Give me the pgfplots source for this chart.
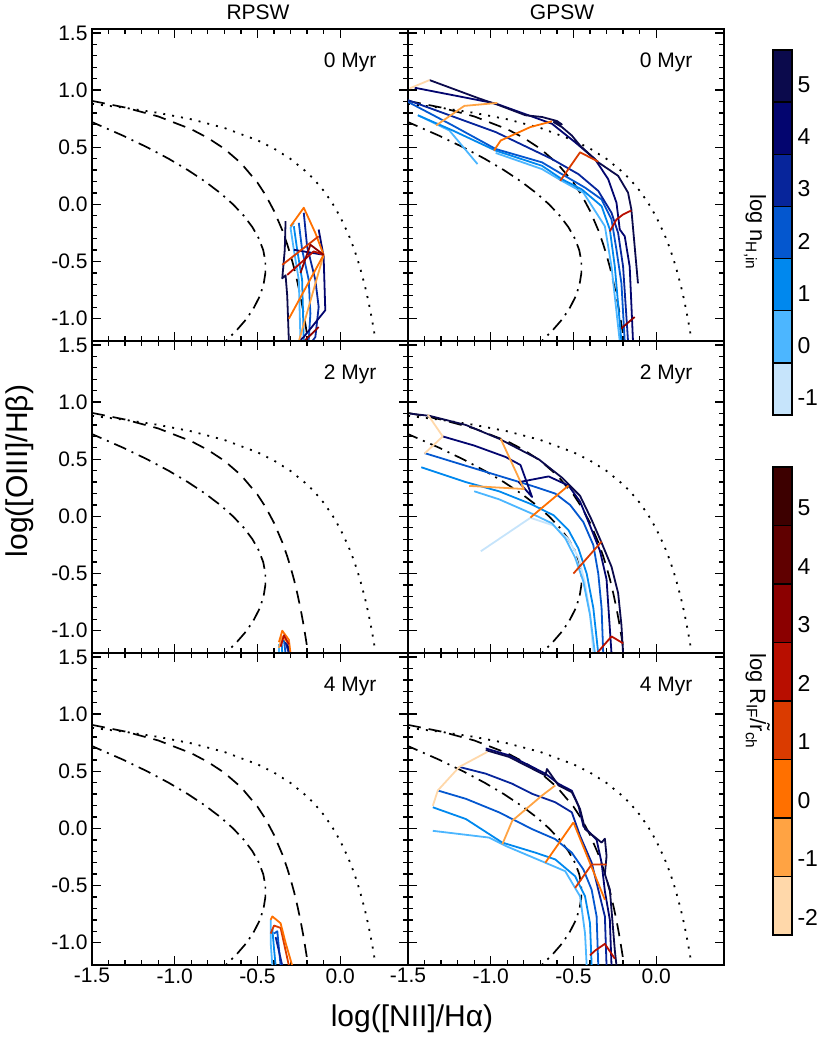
\documentclass[border=0pt]{standalone}
\usepackage{fontspec}
\setmainfont{Liberation Sans}
\usepackage{pgfplots}
\pgfplotsset{compat=1.18}

\definecolor{nA}{HTML}{0B0A4C}
\definecolor{nB}{HTML}{03056F}
\definecolor{nC}{HTML}{07259B}
\definecolor{nD}{HTML}{0457CF}
\definecolor{nE}{HTML}{0088EE}
\definecolor{nF}{HTML}{4CB6FF}
\definecolor{nG}{HTML}{C6E4FB}
\definecolor{rA}{HTML}{3D0000}
\definecolor{rB}{HTML}{600000}
\definecolor{rC}{HTML}{8B0000}
\definecolor{rD}{HTML}{B80E00}
\definecolor{rE}{HTML}{DA3B00}
\definecolor{rF}{HTML}{FF7000}
\definecolor{rG}{HTML}{FFA343}
\definecolor{rH}{HTML}{FFD8AA}

\pgfplotsset{
  panel/.style={scale only axis, width=316pt, height=312pt,
    xmin=-1.5, xmax=0.41, ymin=-1.195, ymax=1.535,
    xtick={-1.5,-1,-0.5,0}, ytick={-1,-0.5,0,0.5,1,1.5},
    minor x tick num=4, minor y tick num=4,
    tick align=inside, xtick pos=both, ytick pos=both,
    major tick length=9pt, minor tick length=5pt,
    axis line style={line width=1.6pt},
    every tick/.style={black, line width=1.3pt},
    xticklabels={}, yticklabels={},
    ticklabel style={font=\fontsize{21}{24}\selectfont},
    yticklabel style={xshift=-1pt},
    clip=true},
  trk/.style={line width=1.8pt, line join=round, no marks},
  refdot/.style={black, line width=1.8pt, no marks, dash pattern=on 2pt off 7pt},
  refdash/.style={black, line width=1.7pt, no marks, dash pattern=on 13pt off 8pt},
  refdd/.style={black, line width=1.7pt, no marks, dash pattern=on 13pt off 6pt on 2pt off 6pt},
  cbar/.style={scale only axis, width=19pt, xmin=0, xmax=1,
    xtick=\empty, ytick={-2,-1,0,1,2,3,4,5}, yticklabels={-2,-1,0,1,2,3,4,5},
    yticklabel pos=right, major tick length=0pt,
    axis line style={line width=1.4pt},
    ticklabel style={font=\fontsize{23}{26}\selectfont},
    yticklabel style={xshift=2pt}},
  seg/.style={draw=black, line width=1.4pt}
}

\newcommand{\refcurves}{%
  \addplot[refdot] coordinates {(-1.5,0.880) (-1.3,0.845) (-1.1,0.801) (-0.9,0.745) (-0.7,0.669) (-0.5,0.561) (-0.4,0.489) (-0.3,0.398) (-0.2,0.280) (-0.15,0.206) (-0.1,0.120) (-0.05,0.017) (0.0,-0.108) (0.05,-0.262) (0.08,-0.374) (0.1,-0.459) (0.12,-0.553) (0.15,-0.716) (0.17,-0.843) (0.19,-0.989) (0.2,-1.069) (0.21,-1.156) (0.22,-1.25)};
  \addplot[refdash] coordinates {(-1.5,0.906) (-1.3,0.848) (-1.1,0.770) (-0.9,0.658) (-0.8,0.582) (-0.7,0.487) (-0.6,0.362) (-0.5,0.191) (-0.45,0.080) (-0.4,-0.056) (-0.35,-0.225) (-0.32,-0.349) (-0.3,-0.443) (-0.28,-0.548) (-0.26,-0.668) (-0.24,-0.803) (-0.22,-0.959) (-0.2,-1.14) (-0.19,-1.242)};
  \addplot[refdd] coordinates {(-1.515,0.73) (-1.310,0.6) (-1.167,0.5) (-1.037,0.4) (-0.920,0.3) (-0.816,0.2) (-0.725,0.1) (-0.647,0.0) (-0.582,-0.1) (-0.530,-0.2) (-0.491,-0.3) (-0.465,-0.4) (-0.452,-0.5) (-0.452,-0.6) (-0.463,-0.7) (-0.485,-0.8) (-0.52,-0.9) (-0.565,-1.0) (-0.625,-1.1) (-0.695,-1.2) (-0.72,-1.23)};
}

\begin{document}
\begin{tikzpicture}
\path[use as bounding box] (0pt,0pt) rectangle (830pt,1040pt);

% ---------------- RPSW 0 Myr
\begin{axis}[panel, at={(92pt,699pt)}, anchor=south west,
  yticklabels={-1.0,-0.5,0.0,0.5,1.0,1.5}]
\refcurves
\addplot[trk, nF] coordinates {(-0.28,-0.16) (-0.30,-0.205) (-0.28,-0.397) (-0.25,-0.661) (-0.24,-1.19)};
\addplot[trk, nE] coordinates {(-0.28,-0.191) (-0.26,-0.397) (-0.23,-0.661) (-0.22,-1.19)};
\addplot[trk, nD] coordinates {(-0.25,-0.161) (-0.23,-0.397) (-0.19,-0.661) (-0.18,-0.955) (-0.19,-1.19)};
\addplot[trk, nC] coordinates {(-0.22,-0.073) (-0.20,-0.367) (-0.15,-0.661) (-0.13,-0.897) (-0.15,-1.16) (-0.17,-1.2)};
\addplot[trk, nB] coordinates {(-0.13,-0.220) (-0.10,-0.455) (-0.09,-0.926) (-0.22,-1.16) (-0.25,-1.2)};
\addplot[trk, nB] coordinates {(-0.28,-0.397) (-0.10,-0.441)};
\addplot[trk, nA] coordinates {(-0.33,-0.147) (-0.335,-0.40) (-0.35,-0.647) (-0.33,-0.62) (-0.32,-0.80) (-0.31,-1.2)};
\addplot[trk, rG] coordinates {(-0.25,-1.2) (-0.10,-0.441)};
\addplot[trk, rF] coordinates {(-0.31,-1.0) (-0.10,-0.441)};
\addplot[trk, rF] coordinates {(-0.30,-0.191) (-0.22,-0.029) (-0.15,-0.25) (-0.10,-0.441)};
\addplot[trk, rE] coordinates {(-0.35,-0.529) (-0.13,-0.279)};
\addplot[trk, rD] coordinates {(-0.32,-0.617) (-0.16,-0.411) (-0.10,-0.441)};
\addplot[trk, rC] coordinates {(-0.24,-0.60) (-0.18,-0.353) (-0.10,-0.441)};
\addplot[trk, rC] coordinates {(-0.22,-1.2) (-0.13,-1.073)};
\node[anchor=east, font=\fontsize{21}{24}\selectfont] at (axis description cs:0.911,0.894) {0 Myr};
\end{axis}

% ---------------- GPSW 0 Myr
\begin{axis}[panel, at={(408pt,699pt)}, anchor=south west]
\refcurves
\addplot[trk, nF] coordinates {(-1.44,0.78) (-1.25,0.647) (-1.08,0.353)};
\addplot[trk, nF] coordinates {(-0.97,0.45) (-0.69,0.309) (-0.57,0.206) (-0.44,0.103) (-0.31,-0.191) (-0.27,-0.544) (-0.22,-1.2)};
\addplot[trk, nE] coordinates {(-1.44,0.780) (-1.23,0.647) (-0.97,0.471) (-0.69,0.338) (-0.57,0.221) (-0.45,0.132) (-0.33,-0.015) (-0.28,-0.220) (-0.25,-0.544) (-0.21,-1.2)};
\addplot[trk, nD] coordinates {(-1.50,0.897) (-1.23,0.691) (-0.97,0.485) (-0.69,0.368) (-0.57,0.265) (-0.43,0.147) (-0.33,0.044) (-0.27,-0.132) (-0.24,-0.397) (-0.21,-0.691) (-0.19,-1.2)};
\addplot[trk, nC] coordinates {(-1.50,0.912) (-0.97,0.633) (-0.63,0.397) (-0.47,0.265) (-0.35,0.118) (-0.27,-0.073) (-0.23,-0.25) (-0.20,-0.544) (-0.17,-1.2)};
\addplot[trk, nB] coordinates {(-1.46,1.021) (-0.97,0.883) (-0.63,0.706) (-0.49,0.544) (-0.37,0.397) (-0.29,0.221) (-0.24,0.015) (-0.22,-0.220) (-0.19,-0.279) (-0.16,-0.544) (-0.14,-1.2)};
\addplot[trk, nA] coordinates {(-1.37,1.088) (-1.07,0.927) (-0.95,0.868) (-0.79,0.780) (-0.69,0.765) (-0.60,0.73) (-0.57,0.70) (-0.62,0.72) (-0.57,0.677) (-0.51,0.603) (-0.46,0.515) (-0.35,0.368) (-0.23,0.250) (-0.17,0.103) (-0.15,-0.044) (-0.13,-0.367) (-0.11,-0.691)};
\addplot[trk, rH] coordinates {(-1.49,1.015) (-1.37,1.088)};
\addplot[trk, rG] coordinates {(-1.33,0.691) (-1.16,0.862) (-0.96,0.888)};
\addplot[trk, rF] coordinates {(-0.98,0.471) (-0.94,0.559) (-0.76,0.677) (-0.63,0.727)};
\addplot[trk, rE] coordinates {(-0.58,0.206) (-0.46,0.456) (-0.35,0.374)};
\addplot[trk, rD] coordinates {(-0.28,-0.235) (-0.24,-0.132) (-0.20,-0.088) (-0.15,-0.053)};
\addplot[trk, rC] coordinates {(-0.21,-1.088) (-0.19,-1.059) (-0.13,-0.985)};
\node[anchor=east, font=\fontsize{21}{24}\selectfont] at (axis description cs:0.911,0.894) {0 Myr};
\end{axis}

% ---------------- RPSW 2 Myr
\begin{axis}[panel, at={(92pt,387pt)}, anchor=south west,
  yticklabels={-1.0,-0.5,0.0,0.5,1.0,1.5}]
\refcurves
\addplot[trk, nF] coordinates {(-0.37,-1.12) (-0.37,-1.2)};
\addplot[trk, nE] coordinates {(-0.355,-1.06) (-0.35,-1.2)};
\addplot[trk, nD] coordinates {(-0.34,-1.08) (-0.33,-1.2)};
\addplot[trk, nC] coordinates {(-0.33,-1.1) (-0.31,-1.2)};
\addplot[trk, nB] coordinates {(-0.32,-1.12) (-0.30,-1.2)};
\addplot[trk, rG] coordinates {(-0.37,-1.15) (-0.35,-1.05) (-0.32,-1.1)};
\addplot[trk, rF] coordinates {(-0.37,-1.1) (-0.35,-1.0) (-0.31,-1.08) (-0.30,-1.2)};
\addplot[trk, rD] coordinates {(-0.36,-1.14) (-0.34,-1.04) (-0.31,-1.12)};
\node[anchor=east, font=\fontsize{21}{24}\selectfont] at (axis description cs:0.911,0.894) {2 Myr};
\end{axis}

% ---------------- GPSW 2 Myr
\begin{axis}[panel, at={(408pt,387pt)}, anchor=south west]
\refcurves
\addplot[trk, nG] coordinates {(-1.06,-0.305) (-0.76,-0.012) (-0.62,-0.08) (-0.53,-0.20) (-0.47,-0.36) (-0.43,-0.58) (-0.40,-0.85) (-0.38,-1.2)};
\addplot[trk, nF] coordinates {(-1.10,0.22) (-0.95,0.15) (-0.76,0.03) (-0.63,-0.06) (-0.55,-0.19) (-0.49,-0.36) (-0.44,-0.57) (-0.40,-0.86) (-0.37,-1.2)};
\addplot[trk, nE] coordinates {(-1.42,0.43) (-1.15,0.30) (-0.95,0.22) (-0.76,0.11) (-0.62,0.01) (-0.53,-0.12) (-0.47,-0.28) (-0.42,-0.50) (-0.38,-0.80) (-0.35,-1.2)};
\addplot[trk, nD] coordinates {(-1.40,0.554) (-1.15,0.443) (-0.95,0.355) (-0.75,0.267) (-0.61,0.200) (-0.52,0.10) (-0.44,-0.05) (-0.38,-0.25) (-0.35,-0.50) (-0.33,-0.80) (-0.32,-1.2)};
\addplot[trk, nB] coordinates {(-1.29,0.70) (-1.10,0.62) (-0.91,0.52) (-0.82,0.45) (-0.75,0.17) (-0.83,0.30) (-0.65,0.35) (-0.53,0.27) (-0.46,0.13) (-0.40,-0.08) (-0.34,-0.30) (-0.30,-0.55) (-0.27,-1.2)};
\addplot[trk, nA] coordinates {(-1.49,0.90) (-1.37,0.88) (-1.15,0.80) (-0.95,0.68) (-0.71,0.50) (-0.57,0.34) (-0.46,0.18) (-0.39,-0.03) (-0.33,-0.23) (-0.27,-0.44) (-0.23,-0.67) (-0.21,-0.95) (-0.20,-1.2)};
\addplot[trk, rH] coordinates {(-1.38,0.89) (-1.29,0.70) (-1.40,0.55)};
\addplot[trk, rG] coordinates {(-0.94,0.68) (-0.80,0.24) (-1.13,0.267)};
\addplot[trk, rF] coordinates {(-0.76,-0.01) (-0.53,0.27)};
\addplot[trk, rE] coordinates {(-0.50,-0.50) (-0.33,-0.22)};
\addplot[trk, rD] coordinates {(-0.36,-1.2) (-0.27,-1.05) (-0.20,-1.11)};
\node[anchor=east, font=\fontsize{21}{24}\selectfont] at (axis description cs:0.911,0.894) {2 Myr};
\end{axis}

% ---------------- RPSW 4 Myr
\begin{axis}[panel, at={(92pt,75pt)}, anchor=south west,
  yticklabels={-1.0,-0.5,0.0,0.5,1.0,1.5}, xticklabels={-1.5,-1.0,-0.5,0.0}]
\refcurves
\addplot[trk, nF] coordinates {(-0.42,-0.80) (-0.42,-1.0) (-0.41,-1.2)};
\addplot[trk, nE] coordinates {(-0.41,-0.88) (-0.40,-1.05) (-0.39,-1.2)};
\addplot[trk, nD] coordinates {(-0.40,-0.92) (-0.38,-0.90) (-0.36,-1.2)};
\addplot[trk, nC] coordinates {(-0.39,-0.95) (-0.35,-1.2)};
\addplot[trk, rE] coordinates {(-0.42,-0.92) (-0.40,-0.85) (-0.36,-0.87) (-0.31,-1.2)};
\addplot[trk, rF] coordinates {(-0.42,-0.80) (-0.41,-0.77) (-0.36,-0.83) (-0.33,-1.0) (-0.29,-1.2)};
\node[anchor=east, font=\fontsize{21}{24}\selectfont] at (axis description cs:0.911,0.894) {4 Myr};
\end{axis}

% ---------------- GPSW 4 Myr
\begin{axis}[panel, at={(408pt,75pt)}, anchor=south west,
  xticklabels={-1.5,-1.0,-0.5,0.0}]
\refcurves
\addplot[trk, nF] coordinates {(-1.35,-0.021) (-1.01,-0.080) (-0.91,-0.153) (-0.67,-0.30) (-0.55,-0.374) (-0.46,-0.594) (-0.43,-0.918) (-0.42,-1.2)};
\addplot[trk, nE] coordinates {(-1.35,0.185) (-1.15,0.082) (-0.93,-0.124) (-0.73,-0.212) (-0.61,-0.271) (-0.49,-0.418) (-0.43,-0.594) (-0.40,-0.83) (-0.39,-1.2)};
\addplot[trk, nD] coordinates {(-1.32,0.332) (-1.15,0.259) (-0.95,0.141) (-0.75,-0.006) (-0.61,-0.094) (-0.51,-0.212) (-0.44,-0.359) (-0.39,-0.536) (-0.36,-0.77) (-0.35,-1.2)};
\addplot[trk, nC] coordinates {(-1.19,0.538) (-1.03,0.479) (-0.87,0.391) (-0.75,0.303) (-0.61,0.229) (-0.51,0.141) (-0.46,-0.065) (-0.39,-0.30) (-0.35,-0.536) (-0.31,-0.77) (-0.30,-1.2)};
\addplot[trk, nB] coordinates {(-1.03,0.70) (-0.89,0.64) (-0.67,0.48) (-0.59,0.39) (-0.51,0.33) (-0.47,0.20) (-0.44,0.02) (-0.36,-0.10) (-0.33,-0.30) (-0.31,-0.55) (-0.28,-0.80) (-0.27,-1.2)};
\addplot[trk, nA] coordinates {(-1.03,0.685) (-0.89,0.626) (-0.67,0.464) (-0.66,0.52) (-0.59,0.376) (-0.51,0.317) (-0.46,0.170) (-0.43,-0.006) (-0.33,-0.124) (-0.31,-0.09) (-0.30,-0.242) (-0.31,-0.40) (-0.28,-0.536) (-0.25,-1.065) (-0.24,-1.2)};
\addplot[trk, rH] coordinates {(-1.02,0.67) (-1.19,0.538) (-1.32,0.332) (-1.35,0.197)};
\addplot[trk, rG] coordinates {(-0.61,0.376) (-0.69,0.288) (-0.87,0.067) (-0.93,-0.139)};
\addplot[trk, rF] coordinates {(-0.50,0.053) (-0.67,-0.30)};
\addplot[trk, rF] coordinates {(-0.50,0.053) (-0.31,-0.624)};
\addplot[trk, rE] coordinates {(-0.49,-0.521) (-0.39,-0.315) (-0.30,-0.315)};
\addplot[trk, rD] coordinates {(-0.40,-1.11) (-0.37,-1.07) (-0.31,-1.01) (-0.25,-1.14)};
\node[anchor=east, font=\fontsize{21}{24}\selectfont] at (axis description cs:0.911,0.894) {4 Myr};
\end{axis}

% ---------------- colour bars
\begin{axis}[cbar, at={(773pt,625pt)}, anchor=south west, height=365pt,
  ymin=-1.333, ymax=5.667]
\addplot[seg, fill=nG] coordinates {(0,-1.333) (1,-1.333) (1,-0.333) (0,-0.333)} -- cycle;
\addplot[seg, fill=nF] coordinates {(0,-0.333) (1,-0.333) (1,0.667) (0,0.667)} -- cycle;
\addplot[seg, fill=nE] coordinates {(0,0.667) (1,0.667) (1,1.667) (0,1.667)} -- cycle;
\addplot[seg, fill=nD] coordinates {(0,1.667) (1,1.667) (1,2.667) (0,2.667)} -- cycle;
\addplot[seg, fill=nC] coordinates {(0,2.667) (1,2.667) (1,3.667) (0,3.667)} -- cycle;
\addplot[seg, fill=nB] coordinates {(0,3.667) (1,3.667) (1,4.667) (0,4.667)} -- cycle;
\addplot[seg, fill=nA] coordinates {(0,4.667) (1,4.667) (1,5.667) (0,5.667)} -- cycle;
\end{axis}
\begin{axis}[cbar, at={(773pt,105pt)}, anchor=south west, height=468pt,
  ymin=-2.3, ymax=5.7]
\addplot[seg, fill=rH] coordinates {(0,-2.3) (1,-2.3) (1,-1.3) (0,-1.3)} -- cycle;
\addplot[seg, fill=rG] coordinates {(0,-1.3) (1,-1.3) (1,-0.3) (0,-0.3)} -- cycle;
\addplot[seg, fill=rF] coordinates {(0,-0.3) (1,-0.3) (1,0.7) (0,0.7)} -- cycle;
\addplot[seg, fill=rE] coordinates {(0,0.7) (1,0.7) (1,1.7) (0,1.7)} -- cycle;
\addplot[seg, fill=rD] coordinates {(0,1.7) (1,1.7) (1,2.7) (0,2.7)} -- cycle;
\addplot[seg, fill=rC] coordinates {(0,2.7) (1,2.7) (1,3.7) (0,3.7)} -- cycle;
\addplot[seg, fill=rB] coordinates {(0,3.7) (1,3.7) (1,4.7) (0,4.7)} -- cycle;
\addplot[seg, fill=rA] coordinates {(0,4.7) (1,4.7) (1,5.7) (0,5.7)} -- cycle;
\end{axis}

% ---------------- titles and labels
\node[font=\fontsize{21}{24}\selectfont] at (258pt,1028pt) {RPSW};
\node[font=\fontsize{21}{24}\selectfont] at (562pt,1028pt) {GPSW};
\node[font=\fontsize{30}{34}\selectfont, anchor=base] at (412pt,13pt) {log([NII]/Hα)};
\node[font=\fontsize{30}{34}\selectfont, anchor=base, rotate=90] at (27pt,569pt) {log([OIII]/Hβ)};
\node[font=\fontsize{22}{25}\selectfont, anchor=base, rotate=-90] at (750pt,808pt) {log n\textsubscript{H,in}};
\node[font=\fontsize{22}{25}\selectfont, anchor=base, rotate=-90] at (750pt,339pt) {log R\textsubscript{IF}/\~{r}\textsubscript{ch}};
\end{tikzpicture}
\end{document}
